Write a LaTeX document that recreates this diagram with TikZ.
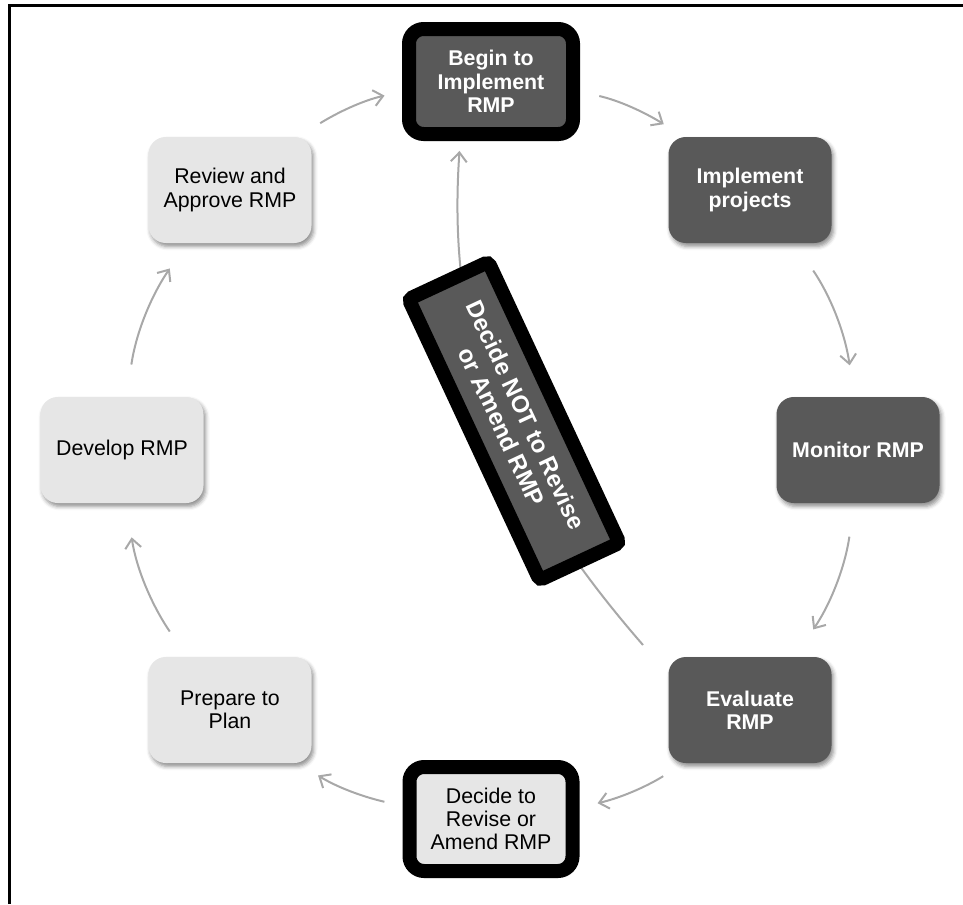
\documentclass[tikz,border=0pt]{standalone}
\usepackage{fontspec}
\setmainfont{Liberation Sans}
\usetikzlibrary{arrows.meta,shadows.blur}
\definecolor{cLight}{HTML}{E6E6E6}
\definecolor{cDark}{HTML}{595959}
\definecolor{cArrow}{HTML}{A8A8A8}
\tikzset{
  boxbase/.style={rectangle, rounded corners=13pt, minimum width=122.25pt, minimum height=79.5pt,
    outer sep=0pt, inner sep=2pt, align=center},
  withshadow/.style={blur shadow={shadow xshift=1.5pt, shadow yshift=-2.5pt, shadow blur radius=3pt, shadow opacity=45}},
  lightstep/.style={boxbase, withshadow, fill=cLight, text=black, font=\fontsize{16}{17.5}\selectfont},
  darkstep/.style={boxbase, withshadow, fill=cDark, text=white, font=\fontsize{16}{17.5}\selectfont\bfseries},
  keybox/.style={line width=10.5pt, draw=black, rounded corners=11pt},
  flow/.style={draw=cArrow, line width=1.5pt, -{Straight Barb[length=7pt,width=12pt]}},
}
\begin{document}
\begin{tikzpicture}[x=0.75pt, y=-0.75pt]
\useasboundingbox (0,0) rectangle (963,904);
\draw[line width=2.25pt] (9,904) -- (9,5) -- (963,5);

% cycle nodes
\node[darkstep, keybox, minimum width=123pt, minimum height=78.75pt] (begin) at (491,81.5) {Begin to\\Implement\\RMP};
\node[darkstep] (implement) at (750,190) {Implement\\projects};
\node[darkstep] (monitor) at (858,450) {Monitor RMP};
\node[darkstep] (evaluate) at (750,710) {Evaluate\\RMP};
\node[lightstep, keybox, minimum width=122.25pt, minimum height=78pt] (decide) at (491,819) {Decide to\\Revise or\\Amend RMP};
\node[lightstep] (prepare) at (230,710) {Prepare to\\Plan};
\node[lightstep] (develop) at (122,450) {Develop RMP};
\node[lightstep] (review) at (230,190) {Review and\\Approve RMP};

% cycle connectors (short arcs of the circle through the node centres)
\draw[flow, shorten <=19.7pt, shorten >=18.8pt] (review.38.5) to[out=31.7, in=192.7] (begin.186.6);
\draw[flow, shorten <=20.2pt, shorten >=18.3pt] (begin.-6.6) to[out=-12.7, in=148.3] (implement.141.5);
\draw[flow, shorten <=25pt, shorten >=24pt] (implement.-50.1) to[out=-55.8, in=98.3] (monitor.94.1);
\draw[flow, shorten <=25.5pt, shorten >=25pt] (monitor.-94.1) to[out=-98.3, in=55.8] (evaluate.50.1);
\draw[flow, shorten <=18.8pt, shorten >=19.3pt] (evaluate.-141.5) to[out=-148.3, in=13] (decide.7.3);
\draw[flow, shorten <=19.3pt, shorten >=17.8pt] (decide.172.7) to[out=167, in=-31.7] (prepare.-38.5);
\draw[flow, shorten <=23.1pt, shorten >=26pt] (prepare.129.9) to[out=124.2, in=278.3] (develop.-85.9);
\draw[flow, shorten <=24.6pt, shorten >=23.1pt] (develop.85.9) to[out=81.7, in=235.8] (review.-129.9);

% loop back through the decision
\coordinate (loopstart) at (643,645);
\draw[flow, shorten >=12.75pt] (loopstart) to[out=131, in=266] (begin.240);

\node[rectangle, outer sep=0pt, inner sep=2pt, align=center, fill=cDark, text=white,
      draw=black, line width=10.5pt, rounded corners=3pt, rotate=-65,
      minimum width=232.5pt, minimum height=66pt,
      font=\fontsize{18}{20}\selectfont\bfseries] (dnot) at (514,421) {Decide NOT to Revise\\or Amend RMP};
\end{tikzpicture}
\end{document}
